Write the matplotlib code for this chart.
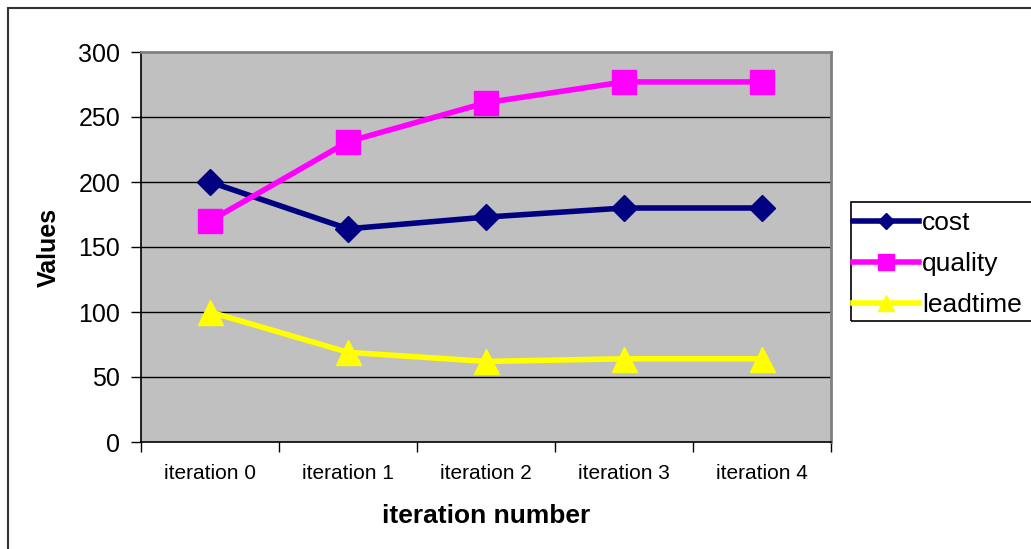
import matplotlib
matplotlib.use("Agg")
import matplotlib.pyplot as plt
from matplotlib.patches import Rectangle
from matplotlib.ticker import FixedLocator, NullFormatter

plt.rcParams['font.family'] = ['Liberation Sans', 'DejaVu Sans']

categories = ["iteration 0", "iteration 1", "iteration 2", "iteration 3", "iteration 4"]
cost = [200, 164, 173, 180, 180]
quality = [170, 231, 261, 277, 277]
leadtime = [100, 69, 62, 64, 64]
y_ticks = [0, 50, 100, 150, 200, 250, 300]

W, H = 1031, 549
fig = plt.figure(figsize=(W / 100, H / 100), dpi=100)

# plot area in pixel units
left, right, top, bottom = 141, 831, 52, 442
ax = fig.add_axes([left / W, 1 - bottom / H, (right - left) / W, (bottom - top) / H])
ax.set_facecolor("#C0C0C0")

x = list(range(len(categories)))
ax.plot(x, cost, color="#000080", lw=4, marker="D", ms=13, mec="#000080", label="cost", zorder=3)
ax.plot(x, quality, color="#FF00FF", lw=4, marker="s", ms=17, mec="#FF00FF", label="quality", zorder=3)
ax.plot(x, leadtime, color="#FFFF00", lw=4, marker="^", ms=18, mec="#FFFF00", label="leadtime", zorder=3)

ax.set_xlim(-0.5, len(categories) - 0.5)
ax.set_ylim(0, 300)

# y axis
ax.set_yticks(y_ticks)
ax.tick_params(axis="y", direction="out", length=7, width=1, colors="black", labelsize=18, pad=8)
for yv in y_ticks[1:-1]:
    ax.axhline(yv, color="black", lw=1, zorder=1)

# x axis: ticks on category boundaries, labels centred on categories
ax.xaxis.set_major_locator(FixedLocator([i - 0.5 for i in range(len(categories) + 1)]))
ax.xaxis.set_major_formatter(NullFormatter())
ax.xaxis.set_minor_locator(FixedLocator(x))
ax.set_xticklabels(categories, minor=True)
ax.tick_params(axis="x", which="major", direction="out", length=7, width=1, colors="black")
ax.tick_params(axis="x", which="minor", length=0, labelsize=15, pad=16)

for side in ("left", "bottom"):
    ax.spines[side].set_color("black")
    ax.spines[side].set_linewidth(1.2)
for side in ("top", "right"):
    ax.spines[side].set_color("#808080")
    ax.spines[side].set_linewidth(2)

fig.text(49 / W, 1 - 247 / H, "Values", rotation=90, ha="center", va="center",
         fontsize=18, fontweight="bold")
fig.text(486 / W, 1 - 516 / H, "iteration number", ha="center", va="center",
         fontsize=19, fontweight="bold")

# outer chart frame
fig.patches.append(Rectangle((8 / W, -0.1), 1.2, 1 - 8 / H + 0.1, transform=fig.transFigure,
                             fill=False, edgecolor="#333333", lw=1.5, zorder=0))

# legend frame
fig.patches.append(Rectangle((851 / W, 1 - 321 / H), 0.3, (321 - 202) / H, transform=fig.transFigure,
                             fill=False, edgecolor="black", lw=1.2, zorder=5))
leg = fig.legend(loc="upper left", bbox_to_anchor=(853 / W, 1 - 211 / H), frameon=False,
                 fontsize=19, handlelength=2.5, handletextpad=0.12, labelspacing=0.64,
                 borderpad=0.0, borderaxespad=0, markerscale=0.65)

fig.savefig("out.png", dpi=100)
